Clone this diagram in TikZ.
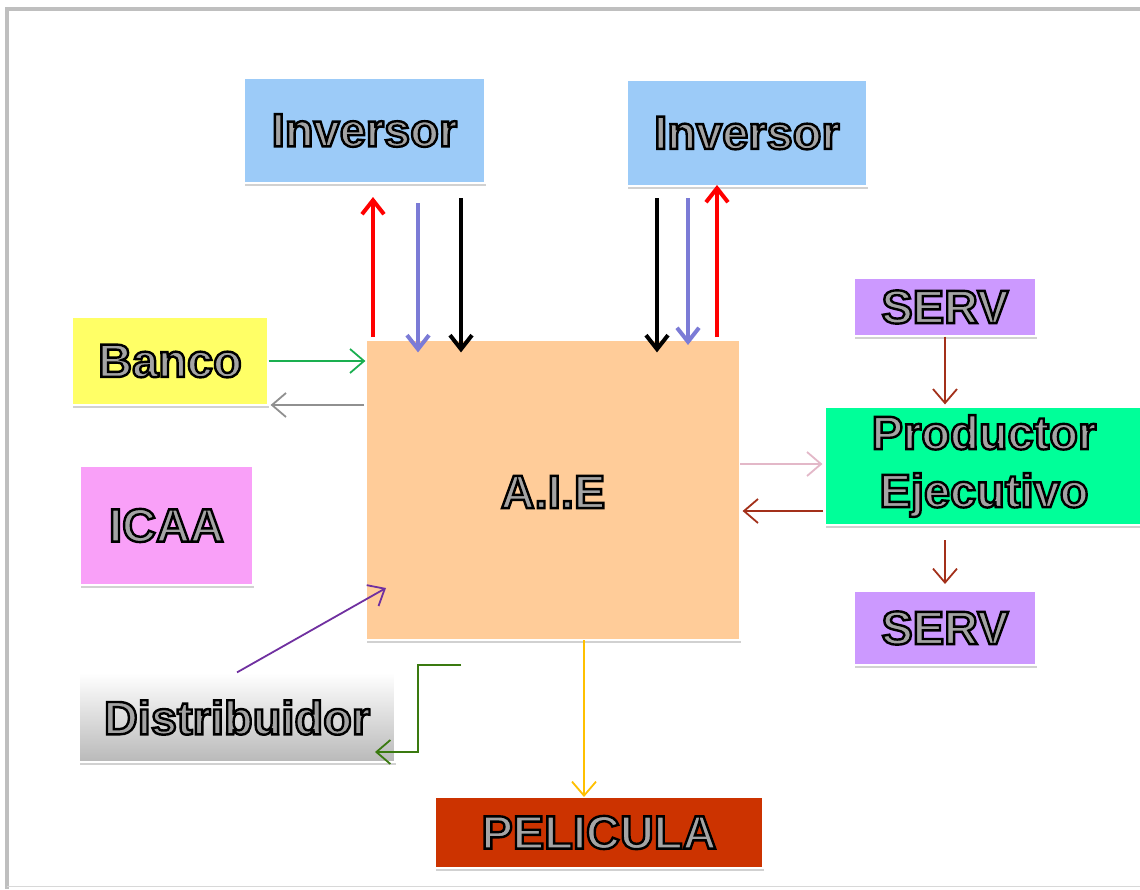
\documentclass[tikz,border=0pt]{standalone}
\usepackage{fontspec}
\setmainfont{Liberation Sans}
\usetikzlibrary{arrows.meta,shadows}
\definecolor{invblue}{HTML}{9CCBF8}
\definecolor{bancoy}{HTML}{FFFF66}
\definecolor{icaap}{HTML}{F9A0F8}
\definecolor{aieor}{HTML}{FFCC99}
\definecolor{servl}{HTML}{CC99FF}
\definecolor{prodg}{HTML}{00FF99}
\definecolor{pelr}{HTML}{CC3300}
\definecolor{txtgray}{HTML}{A4A4A4}
\definecolor{arrred}{HTML}{FF0000}
\definecolor{arrblue}{HTML}{7B7BD6}
\definecolor{arrgreen}{HTML}{1AAF50}
\definecolor{arrgray}{HTML}{909090}
\definecolor{arrpink}{HTML}{E3B8C8}
\definecolor{arrbrown}{HTML}{A3301A}
\definecolor{arrpurple}{HTML}{7030A0}
\definecolor{arrdgreen}{HTML}{3A7A10}
\definecolor{arryellow}{HTML}{FFC000}
\definecolor{framegray}{HTML}{BFBFBF}
\newcommand\lbl[1]{\special{pdf:literal direct 0 0 0 RG 2 Tr 2.4 w}#1\special{pdf:literal direct 0 Tr}}
\tikzset{
  box/.style={rectangle, draw=white, line width=1.2pt, inner sep=0pt,
    text=txtgray, font=\fontsize{47}{56}\selectfont\bfseries, align=center,
    drop shadow={shadow xshift=1pt, shadow yshift=-3pt, opacity=0.18, fill=black}},
  thinarr/.style={line width=1.8pt, -{Straight Barb[length=14pt,width=24pt,line width=1.8pt]}},
  thickarr/.style={line width=4pt, -{Straight Barb[length=14pt,width=22pt,line width=4pt]}},
}
\begin{document}
\begin{tikzpicture}[x=1pt,y=-1pt]
\useasboundingbox (0,0) rectangle (1140,889);
\fill[white] (0,0) rectangle (1140,889);
% frame
\draw[framegray, line width=4pt] (7,889) -- (7,9) -- (1140,9);
\draw[framegray!60, line width=1pt] (7,886) -- (1140,886);

% nodes
\node[box, fill=invblue, minimum width=241pt, minimum height=105pt] (inv1) at (364.5,130.5) {\lbl{Inversor}};
\node[box, fill=invblue, minimum width=240pt, minimum height=106pt] (inv2) at (747,133) {\lbl{Inversor}};
\node[box, fill=bancoy, minimum width=196pt, minimum height=88pt] (banco) at (170,361) {\lbl{Banco}};
\node[box, fill=icaap, minimum width=173pt, minimum height=119pt] (icaa) at (166.5,525.5) {\lbl{ICAA}};
\node[box, top color=white, bottom color=gray!55, minimum width=316pt, minimum height=89pt] (dist) at (237,717.5) {\lbl{Distribuidor}};
\node[box, fill=aieor, minimum width=374pt, minimum height=300pt] (aie) at (553,490) {};
\node[text=txtgray, font=\fontsize{47}{56}\selectfont\bfseries] (aietxt) at (553,492) {\lbl{A.I.E}};
\node[box, fill=servl, minimum width=182pt, minimum height=58pt] (serv1) at (945,307) {\lbl{SERV}};
\node[box, fill=prodg, minimum width=318pt, minimum height=118pt] (prod) at (984,466) {\lbl{Productor}\\[2pt]\lbl{Ejecutivo}};
\node[box, fill=servl, minimum width=182pt, minimum height=74pt] (serv2) at (945,628) {\lbl{SERV}};
\node[box, fill=pelr, minimum width=328pt, minimum height=71pt] (pel) at (599,832.5) {\lbl{PELICULA}};

% coordinates for free ends
\coordinate (r1s) at (373,337);
\coordinate (r1e) at (373,197);
\coordinate (b1s) at (418,203);
\coordinate (k1s) at (461,198);
\coordinate (k2s) at (657,198);
\coordinate (b2s) at (688,198);
\coordinate (b2e) at (688,345);
\coordinate (r2s) at (717,337);
\coordinate (r2e) at (717,185);
\coordinate (gray1) at (364,405);
\coordinate (pink1) at (740,464);
\coordinate (brown1) at (823,511);
\coordinate (yel1) at (584,640);
\coordinate (yel2) at (584,797);
\coordinate (pur2) at (386,588);
\coordinate (dg1) at (461,665);
\coordinate (dg2) at (418,665);
\coordinate (dg3) at (418,752);
\coordinate (dg4) at (375,752);
\coordinate (s2a) at (945,540);
\coordinate (s2b) at (945,584);

% connectors
\draw[thickarr, arrred] (r1s) -- (r1e);
\draw[thickarr, arrblue] (b1s) -- (b1s |- aie.north) -- ++(0,13);
\draw[thickarr, black] (k1s) -- (k1s |- aie.north) -- ++(0,13);
\draw[thickarr, black] (k2s) -- (k2s |- aie.north) -- ++(0,13);
\draw[thickarr, arrblue] (b2s) -- (b2e);
\draw[thickarr, arrred] (r2s) -- (r2e);

\draw[thinarr, arrgreen] (banco.east) -- (banco.east -| aie.west);
\draw[thinarr, arrgray] (gray1) -- ([xshift=2pt]gray1 -| banco.east);
\draw[thinarr, arrpink] (pink1) -- ([xshift=-2pt]pink1 -| prod.west);
\draw[thinarr, arrbrown] (brown1) -- ([xshift=2pt]brown1 -| aie.east);
\draw[thinarr, arrbrown] (serv1.south) -- ([yshift=2pt]serv1.south |- prod.north);
\draw[thinarr, arrbrown] (s2a) -- (s2b);
\draw[thinarr, arryellow] (yel1) -- (yel2);
\draw[thinarr, arrpurple] (dist.north) -- (pur2);
\draw[thinarr, arrdgreen] (dg1) -- (dg2) -- (dg3) -- (dg4);
\end{tikzpicture}
\end{document}
